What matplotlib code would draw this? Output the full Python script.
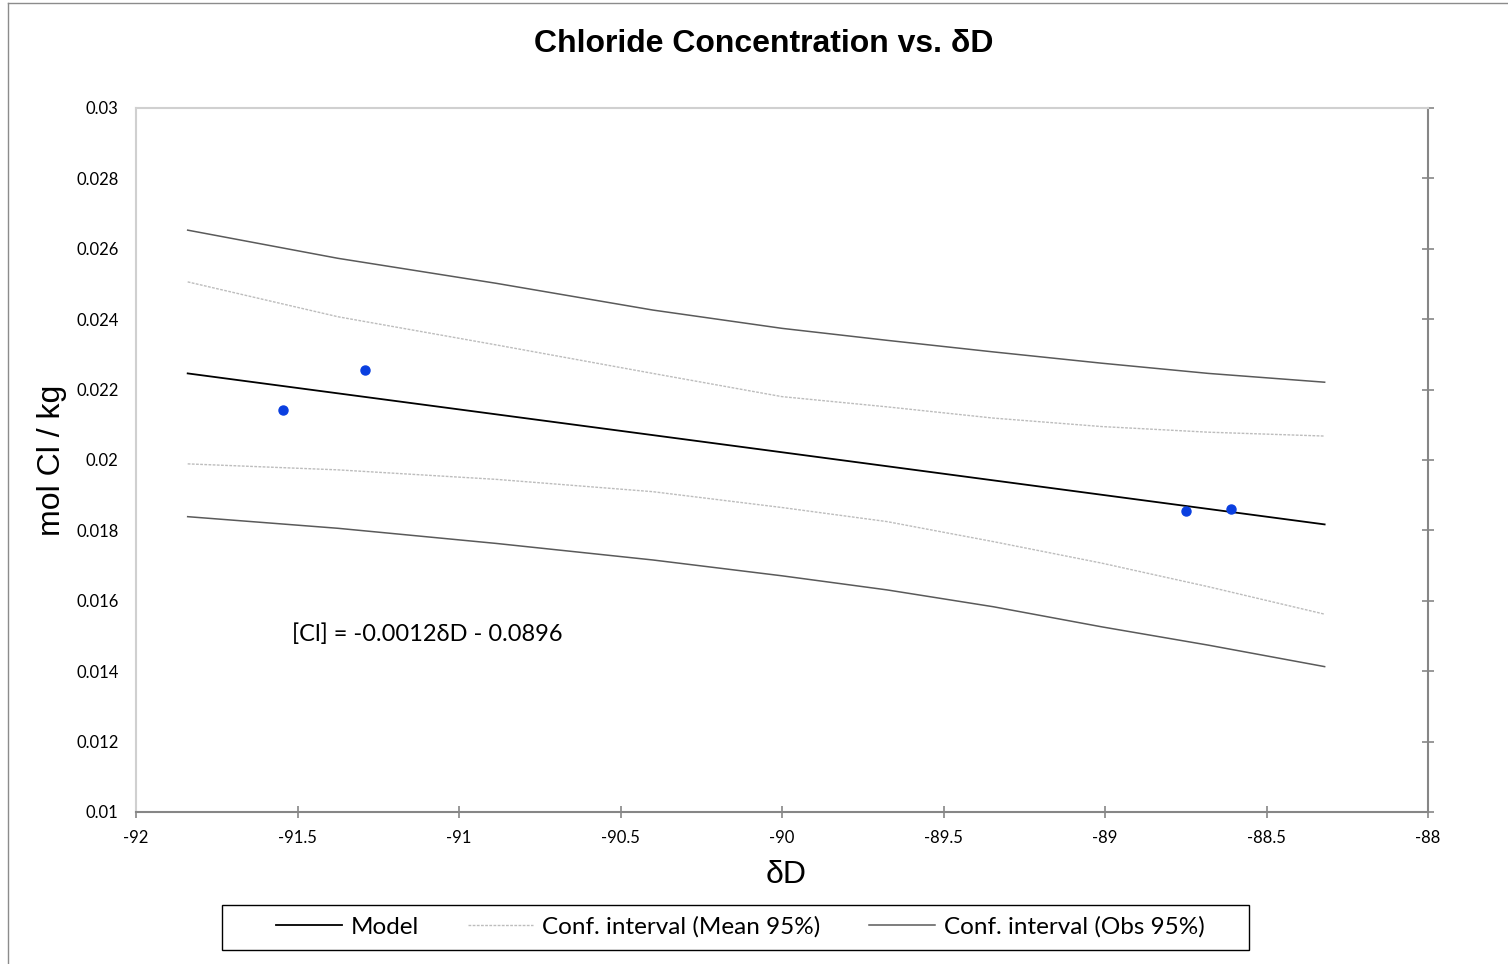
import numpy as np
import matplotlib
matplotlib.use("Agg")
import matplotlib.pyplot as plt
from matplotlib.lines import Line2D
from matplotlib.patches import Rectangle

# ---- data ----
obs_x = [-91.545, -91.291, -88.749, -88.610]
obs_y = [0.02142, 0.02256, 0.01855, 0.01861]

model_x = [-91.84, -90.0, -88.32]
model_y = [0.02246, 0.02022, 0.01817]

ci_x = [-91.84, -91.375, -90.885, -90.4, -90.0, -89.675, -89.345, -89.01, -88.68, -88.32]
mean_upper = [0.02506, 0.02407, 0.02327, 0.02246, 0.02180, 0.02151, 0.02119, 0.02095, 0.02079, 0.02068]
mean_lower = [0.01989, 0.01972, 0.01945, 0.01910, 0.01865, 0.01825, 0.01768, 0.01707, 0.01640, 0.01562]
obs_upper = [0.02653, 0.02573, 0.02502, 0.02426, 0.02374, 0.02340, 0.02307, 0.02275, 0.02246, 0.02221]
obs_lower = [0.01839, 0.01806, 0.01763, 0.01716, 0.01671, 0.01631, 0.01583, 0.01526, 0.01474, 0.01413]

x_ticks = [-92, -91.5, -91, -90.5, -90, -89.5, -89, -88.5, -88]
x_tick_labels = ["-92", "-91.5", "-91", "-90.5", "-90", "-89.5", "-89", "-88.5", "-88"]
y_ticks = [0.01, 0.012, 0.014, 0.016, 0.018, 0.02, 0.022, 0.024, 0.026, 0.028, 0.03]
y_tick_labels = ["0.01", "0.012", "0.014", "0.016", "0.018", "0.02", "0.022",
                 "0.024", "0.026", "0.028", "0.03"]

body_font = "Lato"
head_font = "Liberation Sans"
W, H = 1508, 964

fig = plt.figure(figsize=(W / 100, H / 100), dpi=100)
ax = fig.add_axes([136 / W, 1 - 812 / H, (1428 - 136) / W, (812 - 108) / H])

# outer chart border (left and top visible)
fig.add_artist(Line2D([8 / W, 8 / W], [0, 1 - 3 / H], transform=fig.transFigure,
                      color="#8c8c8c", lw=1))
fig.add_artist(Line2D([8 / W, 1], [1 - 3 / H, 1 - 3 / H], transform=fig.transFigure,
                      color="#8c8c8c", lw=1))

ax.plot(model_x, model_y, color="black", lw=1.3, label="Model")
ax.plot(ci_x, mean_upper, color="#bdbdbd", lw=1.0, ls=(0, (2, 1)),
        label="Conf. interval (Mean 95%)")
ax.plot(ci_x, mean_lower, color="#bdbdbd", lw=1.0, ls=(0, (2, 1)))
ax.plot(ci_x, obs_upper, color="#5a5a5a", lw=1.1, label="Conf. interval (Obs 95%)")
ax.plot(ci_x, obs_lower, color="#5a5a5a", lw=1.1)
ax.plot(obs_x, obs_y, "o", color="#0a3fe0", ms=6.5, ls="none")

ax.set_xlim(-92, -88)
ax.set_ylim(0.01, 0.03)
ax.set_xticks(x_ticks)
ax.set_xticklabels(x_tick_labels, fontfamily=body_font, fontsize=12)
ax.set_yticks(y_ticks)
ax.set_yticklabels(y_tick_labels, fontfamily=body_font, fontsize=12)

ax.spines["left"].set_color("#d0d0d0")
ax.spines["top"].set_color("#d0d0d0")
ax.spines["bottom"].set_color("#868686")
ax.spines["right"].set_color("#868686")
for s in ax.spines.values():
    s.set_linewidth(1.5)

ax.tick_params(axis="x", direction="inout", length=8, width=1.2, color="#868686", pad=9)
ax.tick_params(axis="y", left=False, right=True, labelleft=True, labelright=False,
               direction="inout", length=9, width=1.2, color="#868686", pad=8)

fig.text(764 / W, 1 - 44 / H, "Chloride Concentration vs. δD", fontfamily=head_font,
         fontsize=23, fontweight="bold", ha="center", va="center")
fig.text(786 / W, 1 - 875 / H, "δD", fontfamily=head_font, fontsize=23,
         ha="center", va="center")
fig.text(52 / W, 1 - 460 / H, "mol Cl / kg", fontfamily=head_font, fontsize=23,
         ha="center", va="center", rotation=90)

ax.text(-91.517, 0.01505, "[Cl] = -0.0012δD - 0.0896", fontfamily=body_font, fontsize=17,
        va="center", ha="left")

# legend box drawn separately, entries centred inside it
fig.add_artist(Rectangle((222 / W, 1 - 950 / H), (1249 - 222) / W, 45 / H,
                         transform=fig.transFigure, fill=False, edgecolor="black", lw=1.0))
fig.legend(loc="center", bbox_to_anchor=(740.5 / W, 1 - 927 / H), ncol=3,
           prop={"family": body_font, "size": 17.5}, frameon=False,
           handlelength=2.7, columnspacing=2.0, handletextpad=0.37, borderpad=0.2)

fig.savefig("out.png", dpi=100)
